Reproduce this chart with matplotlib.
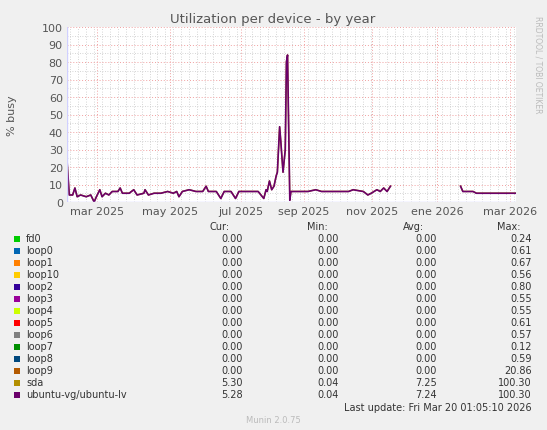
import matplotlib
matplotlib.use("Agg")
import matplotlib.pyplot as plt
import numpy as np

# days since 2025-01-31 and % busy (ubuntu-vg/ubuntu-lv)
days = [0, 2, 5, 7, 9, 12, 17, 21, 24, 26, 29, 31, 34, 37, 40, 45, 47, 49, 55, 59, 62, 68, 69, 72,
        77, 83, 89, 94, 97, 99, 102, 108, 114, 120, 123, 125, 132, 136, 139, 145, 149, 152, 157,
        163, 169, 174, 176, 177, 179, 181, 183, 185, 186, 188, 189, 191, 193, 194, 195, 197, 198,
        203, 213, 220, 225, 249, 253, 262, 266, 269, 274, 277, 280, 283, 286,
        287, 347,
        348, 350, 359, 362, 373, 379, 391, 397]
busy = [24, 4, 4, 8, 3, 4, 3, 4, 0, 3, 7, 3, 5, 4, 6, 6, 8, 5, 5, 7, 4, 5, 7, 4,
        5, 5, 6, 5, 6, 3, 6, 7, 6, 6, 9, 6, 6, 2, 6, 6, 2, 6, 6,
        6, 6, 2, 7, 6, 12, 7, 9, 15, 17, 43, 35, 17, 30, 80, 84, 1, 6,
        6, 6, 7, 6, 6, 7, 6, 4, 5, 7, 6, 8, 6, 9,
        np.nan, np.nan,
        9, 6, 6, 5, 5, 5, 5, 5]

tick_days = [26.5, 91, 154, 209.5, 270, 327, 392]
tick_labels = ["mar 2025", "may 2025", "jul 2025", "sep 2025", "nov 2025", "ene 2026", "mar 2026"]

names = ["fd0", "loop0", "loop1", "loop10", "loop2", "loop3", "loop4", "loop5", "loop6",
         "loop7", "loop8", "loop9", "sda", "ubuntu-vg/ubuntu-lv"]
colors = ["#00CC00", "#0066B3", "#FF8000", "#FFCC00", "#330099", "#990099", "#CCFF00",
          "#FF0000", "#808080", "#008F00", "#00487D", "#B35A00", "#B38F00", "#6B006B"]
cur = ["0.00"] * 12 + ["5.30", "5.28"]
mins = ["0.00"] * 12 + ["0.04", "0.04"]
avg = ["0.00"] * 12 + ["7.25", "7.24"]
maxs = ["0.24", "0.61", "0.67", "0.56", "0.80", "0.55", "0.55", "0.61", "0.57", "0.12",
        "0.59", "20.86", "100.30", "100.30"]

W, H = 547, 431
fig = plt.figure(figsize=(W / 100, H / 100), dpi=100, facecolor="#F0F0F0")
ax = fig.add_axes([67 / W, (H - 203) / H, 449 / W, 175 / H], facecolor="white")

ax.plot(days, np.array(busy) + 0.05, color="#B38F00", lw=1)
ax.plot(days, busy, color="#6B006B", lw=1.2)

ax.set_xlim(0, 397)
ax.set_ylim(0, 100)
ax.set_yticks(range(0, 101, 10))
ax.set_yticks(range(0, 101, 5), minor=True)
ax.set_xticks(tick_days)
ax.set_xticklabels(tick_labels)
ax.set_xticks(np.arange(3, 397, 7), minor=True)
ax.grid(which="minor", color="#C8C8C8", ls=(0, (1, 2)), lw=0.6)
ax.grid(which="major", color="#F0A0A0", ls=(0, (1, 2)), lw=0.7)
ax.tick_params(which="both", length=0, labelsize=8, colors="#555555", pad=3)
for s in ax.spines.values():
    s.set_visible(False)
ax.axhline(0, color="#D0D0FF", lw=1)
ax.axvline(0, color="#D0D0FF", lw=1)
ax.set_ylabel("% busy", color="#555555", fontsize=8, labelpad=18)

fig.text(273 / W, 1 - 19 / H, "Utilization per device - by year", ha="center", va="center",
         fontsize=9.5, color="#555555")
fig.text(538 / W, 1 - 65 / H, "RRDTOOL / TOBI OETIKER", rotation=270, ha="center", va="center",
         fontsize=5.5, color="#BBBBBB")

fs = 7
tc = "#333333"
y0 = 227
fig.text(230 / W, 1 - y0 / H, "Cur:", ha="right", va="center", fontsize=fs, color=tc)
fig.text(328 / W, 1 - y0 / H, "Min:", ha="right", va="center", fontsize=fs, color=tc)
fig.text(424 / W, 1 - y0 / H, "Avg:", ha="right", va="center", fontsize=fs, color=tc)
fig.text(520 / W, 1 - y0 / H, "Max:", ha="right", va="center", fontsize=fs, color=tc)
for i, n in enumerate(names):
    y = 1 - (239 + i * 12.0) / H
    fig.patches.append(plt.Rectangle((14 / W, y - 3.5 / H), 6 / W, 6 / H, transform=fig.transFigure,
                                     facecolor=colors[i], edgecolor="none"))
    fig.text(26 / W, y, n, ha="left", va="center", fontsize=fs, color=tc)
    fig.text(243 / W, y, cur[i], ha="right", va="center", fontsize=fs, color=tc)
    fig.text(339 / W, y, mins[i], ha="right", va="center", fontsize=fs, color=tc)
    fig.text(437 / W, y, avg[i], ha="right", va="center", fontsize=fs, color=tc)
    fig.text(532 / W, y, maxs[i], ha="right", va="center", fontsize=fs, color=tc)

fig.text(532 / W, 1 - 408 / H, "Last update: Fri Mar 20 01:05:10 2026", ha="right", va="center",
         fontsize=fs, color=tc)
fig.text(273 / W, 1 - 421 / H, "Munin 2.0.75", ha="center", va="center", fontsize=6, color="#BBBBBB")

fig.savefig("out.png", dpi=100, facecolor=fig.get_facecolor())
